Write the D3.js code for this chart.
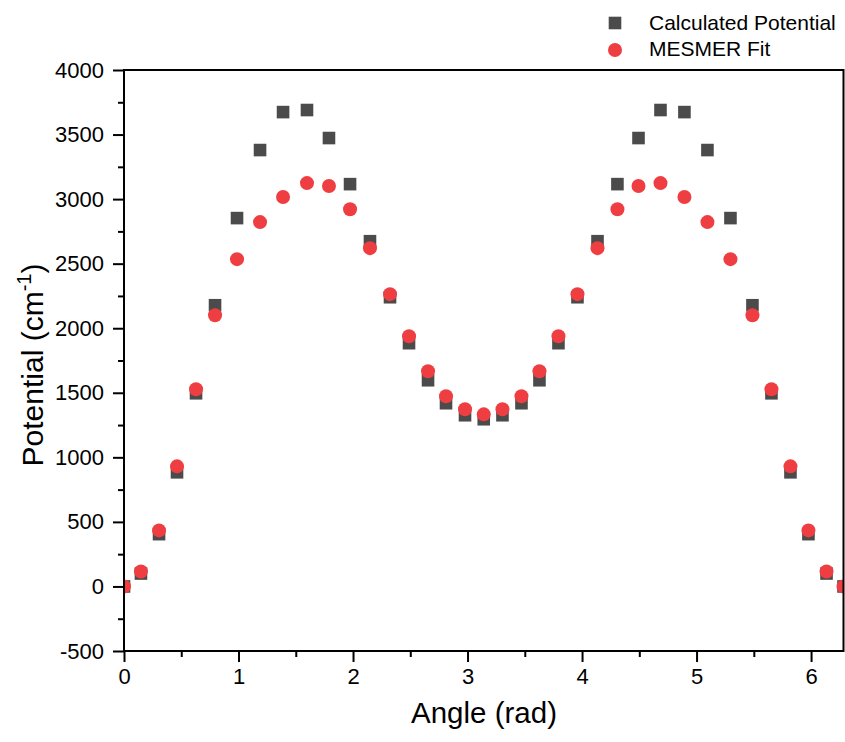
<!DOCTYPE html>
<html>
<head>
<meta charset="utf-8">
<script src="https://cdn.jsdelivr.net/npm/d3@7"></script>
<style>
body{margin:0;background:#fff;}
text{font-family:Arial,"Liberation Sans",sans-serif;fill:#000;}
</style>
</head>
<body>
<div id="chart"></div>
<script>
// angles (rad)
var angle = [0, 0.148, 0.306, 0.463, 0.629, 0.795, 0.987, 1.188, 1.389, 1.598, 1.790, 1.974, 2.148, 2.323, 2.489, 2.655, 2.812, 2.978, 3.1416,
  3.305, 3.471, 3.628, 3.794, 3.960, 4.135, 4.309, 4.493, 4.685, 4.894, 5.095, 5.296, 5.488, 5.654, 5.820, 5.977, 6.135, 6.2832];

var calculated = [0, 100, 405, 884, 1496, 2178, 2853, 3380, 3674, 3690, 3473, 3116, 2674, 2240, 1884, 1597, 1419, 1326, 1295,
  1326, 1419, 1597, 1884, 2240, 2674, 3116, 3473, 3690, 3674, 3380, 2853, 2178, 1496, 884, 405, 100, 0];

var mesmerFit = [0, 116, 434, 930, 1527, 2100, 2535, 2822, 3016, 3124, 3101, 2922, 2620, 2264, 1938, 1667, 1473, 1372, 1333,
  1372, 1473, 1667, 1938, 2264, 2620, 2922, 3101, 3124, 3016, 2822, 2535, 2100, 1527, 930, 434, 116, 0];

var xTicks = [0, 1, 2, 3, 4, 5, 6];
var yTicks = [-500, 0, 500, 1000, 1500, 2000, 2500, 3000, 3500, 4000];
var seriesNames = ["Calculated Potential", "MESMER Fit"];

var w = 845, h = 742;
var margin = {top: 70, right: 1.5, bottom: 91, left: 124};
var iw = w - margin.left - margin.right, ih = h - margin.top - margin.bottom;

var svg = d3.select("#chart").append("svg")
  .attr("width", w)
  .attr("height", h);

var x = d3.scaleLinear().domain([0, 2 * Math.PI]).range([0, iw]);
var y = d3.scaleLinear().domain([-500, 4000]).range([ih, 0]);

var g = svg.append("g").attr("transform", "translate(" + margin.left + "," + margin.top + ")");

g.append("clipPath").attr("id", "clip")
  .append("rect").attr("width", iw).attr("height", ih);

var plot = g.append("g").attr("clip-path", "url(#clip)");

// squares first, circles on top
plot.selectAll("rect.calc")
  .data(angle)
  .enter()
  .append("rect")
  .attr("class", "calc")
  .attr("x", function(d){ return x(d) - 6.3; })
  .attr("y", function(d, i){ return y(calculated[i]) - 6.3; })
  .attr("width", 12.6)
  .attr("height", 12.6)
  .style("fill", "#4b4b4b");

plot.selectAll("circle.fit")
  .data(angle)
  .enter()
  .append("circle")
  .attr("class", "fit")
  .attr("cx", function(d){ return x(d); })
  .attr("cy", function(d, i){ return y(mesmerFit[i]); })
  .attr("r", 7)
  .style("fill", "#ef3e42");

// plain hyphen for negatives, like the original
var fmt = function(d){ return String(d); };

var xAxis = d3.axisBottom(x).tickValues(xTicks).tickSize(11).tickPadding(6).tickFormat(fmt);
var xMinor = d3.axisBottom(x).tickValues(d3.range(0.5, 6.3, 1)).tickSize(6).tickFormat("");
var yAxis = d3.axisLeft(y).tickValues(yTicks).tickSize(11).tickPadding(9).tickFormat(fmt);
var yMinor = d3.axisLeft(y).tickValues(d3.range(-250, 4000, 500)).tickSize(6).tickFormat("");

function styleAxis(sel) {
  sel.select(".domain").remove();
  sel.selectAll("line").style("stroke", "#000").style("stroke-width", 2);
  sel.selectAll("text").style("font-size", "22px").style("fill", "#000")
    .style("font-family", "Arial, 'Liberation Sans', sans-serif");
}

g.append("g").attr("transform", "translate(0," + ih + ")").call(xAxis).call(styleAxis);
g.append("g").attr("transform", "translate(0," + ih + ")").call(xMinor).call(styleAxis);
g.append("g").call(yAxis).call(styleAxis);
g.append("g").call(yMinor).call(styleAxis);

// frame
g.append("rect")
  .attr("x", 0).attr("y", 0)
  .attr("width", iw).attr("height", ih)
  .style("fill", "none")
  .style("stroke", "#000")
  .style("stroke-width", 2);

// axis titles
svg.append("text")
  .attr("x", 484)
  .attr("y", 723)
  .attr("text-anchor", "middle")
  .style("font-size", "29.5px")
  .text("Angle (rad)");

var yl = svg.append("text")
  .attr("transform", "translate(43,365) rotate(-90)")
  .attr("text-anchor", "middle")
  .style("font-size", "30px");
yl.append("tspan").text("Potential (cm");
yl.append("tspan").attr("dy", -12).style("font-size", "20px").text("-1");
yl.append("tspan").attr("dy", 12).text(")");

// legend
var legend = svg.append("g").attr("transform", "translate(615,0)");
legend.append("rect")
  .attr("x", -6.3).attr("y", 23 - 6.3)
  .attr("width", 12.6).attr("height", 12.6)
  .style("fill", "#4b4b4b");
legend.append("circle")
  .attr("cx", 0).attr("cy", 50).attr("r", 7)
  .style("fill", "#ef3e42");
legend.selectAll("text")
  .data(seriesNames)
  .enter()
  .append("text")
  .attr("x", 34)
  .attr("y", function(d, i){ return 30 + i * 26; })
  .style("font-size", "21px")
  .text(function(d){ return d; });
</script>
</body>
</html>
